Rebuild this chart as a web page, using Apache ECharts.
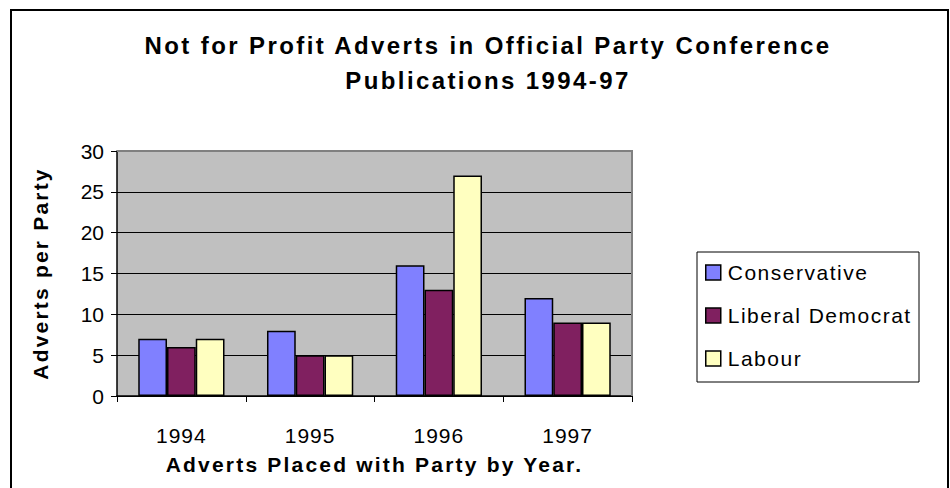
<!DOCTYPE html>
<html>
<head>
<meta charset="utf-8">
<script src="https://cdn.jsdelivr.net/npm/echarts@6/dist/echarts.min.js"></script>
<style>
  html, body { margin: 0; padding: 0; background: #fff; }
  #chart { width: 950px; height: 488px; }
</style>
</head>
<body>
<div id="chart"></div>
<script>
// adverts per party
var years = ['1994', '1995', '1996', '1997'];
var conservative = [7, 8, 16, 12];
var libDem = [6, 5, 13, 9];
var labour = [7, 5, 27, 9];
var yTicks = [0, 5, 10, 15, 20, 25, 30];
var partyNames = ['Conservative', 'Liberal Democrat', 'Labour'];

var titleLines = ['Not for Profit Adverts in Official Party Conference', 'Publications 1994-97'];
var xName = 'Adverts Placed with Party by Year.';
var yName = 'Adverts per Party';

var FONT = 'Arial, "Liberation Sans", sans-serif';
var barBorder = { borderColor: '#000', borderWidth: 1.5 };

const myChart = echarts.init(document.getElementById('chart'), null, { renderer: 'svg' });

myChart.setOption({
    animation: false,
    textStyle: { fontFamily: FONT, color: '#000' },
    title: {
        text: titleLines.join('\n'),
        left: 483,
        top: 23,
        textAlign: 'center',
        textStyle: { fontSize: 24, fontWeight: 'bold', lineHeight: 35, color: '#000' }
    },
    graphic: [
        // outer chart frame
        { type: 'rect', shape: { x: 11, y: 10, width: 937, height: 490 }, style: { fill: 'none', stroke: '#000', lineWidth: 2 }, silent: true },
        // legend frame
        { type: 'rect', shape: { x: 697, y: 252, width: 222, height: 130 }, style: { fill: '#fff', stroke: '#000', lineWidth: 1 }, silent: true, z: -1 },
        // plot area right/top edges
        { type: 'polyline', shape: { points: [[117, 151], [632, 151], [632, 396]] }, style: { fill: 'none', stroke: '#808080', lineWidth: 2 }, silent: true, z: 5 }
    ],
    legend: {
        orient: 'vertical',
        left: 705,
        top: 262,
        padding: 0,
        icon: 'rect',
        itemWidth: 15,
        itemHeight: 15,
        itemGap: 22,
        textStyle: { fontSize: 21, lineHeight: 20, color: '#000', padding: [0, 0, 0, 2] },
        itemStyle: { borderColor: '#000', borderWidth: 1.5 },
        data: partyNames
    },
    grid: {
        left: 117,
        right: 318,
        top: 151,
        bottom: 92,
        show: true,
        backgroundColor: '#C0C0C0',
        borderWidth: 0
    },
    xAxis: {
        type: 'category',
        data: years,
        name: xName,
        nameLocation: 'middle',
        nameGap: 58,
        nameTextStyle: { fontSize: 21, fontWeight: 'bold', color: '#000' },
        axisLine: { lineStyle: { color: '#000', width: 1.5 } },
        axisTick: { show: true, length: 6, lineStyle: { color: '#000' } },
        axisLabel: { fontSize: 21, color: '#000', margin: 29 }
    },
    yAxis: {
        type: 'value',
        min: 0,
        max: 30,
        interval: 5,
        name: yName,
        nameLocation: 'middle',
        nameGap: 66,
        nameTextStyle: { fontSize: 21, fontWeight: 'bold', color: '#000' },
        axisLine: { show: true, lineStyle: { color: '#000', width: 1.5 } },
        axisTick: { show: true, length: 6, lineStyle: { color: '#000' } },
        axisLabel: {
            fontSize: 21, color: '#000', margin: 13,
            formatter: function (v) { return yTicks.indexOf(v) >= 0 ? String(v) : ''; }
        },
        splitLine: { show: true, lineStyle: { color: '#000', width: 1 } }
    },
    series: [
        { name: partyNames[0], type: 'bar', data: conservative, barGap: '0%', barCategoryGap: '33%', itemStyle: Object.assign({ color: '#8080FF' }, barBorder) },
        { name: partyNames[1], type: 'bar', data: libDem, barGap: '0%', barCategoryGap: '33%', itemStyle: Object.assign({ color: '#802060' }, barBorder) },
        { name: partyNames[2], type: 'bar', data: labour, barGap: '0%', barCategoryGap: '33%', itemStyle: Object.assign({ color: '#FFFFC0' }, barBorder) }
    ]
});

// the original (Excel) text is drawn with wide letter spacing; echarts has no
// option for it so it's set on the svg text nodes after rendering
function spacingFor(txt) {
    if (titleLines.indexOf(txt) >= 0) return 2.4;
    if (txt === xName || txt === yName) return 2.2;
    if (partyNames.indexOf(txt) >= 0) return 1.5;
    if (years.indexOf(txt) >= 0) return 1;
    return 0;
}
function applySpacing() {
    document.querySelectorAll('#chart text').forEach(function (t) {
        var s = spacingFor(t.textContent);
        if (s) t.setAttribute('letter-spacing', s + 'px');
    });
}
myChart.on('finished', applySpacing);
applySpacing();
</script>
</body>
</html>
